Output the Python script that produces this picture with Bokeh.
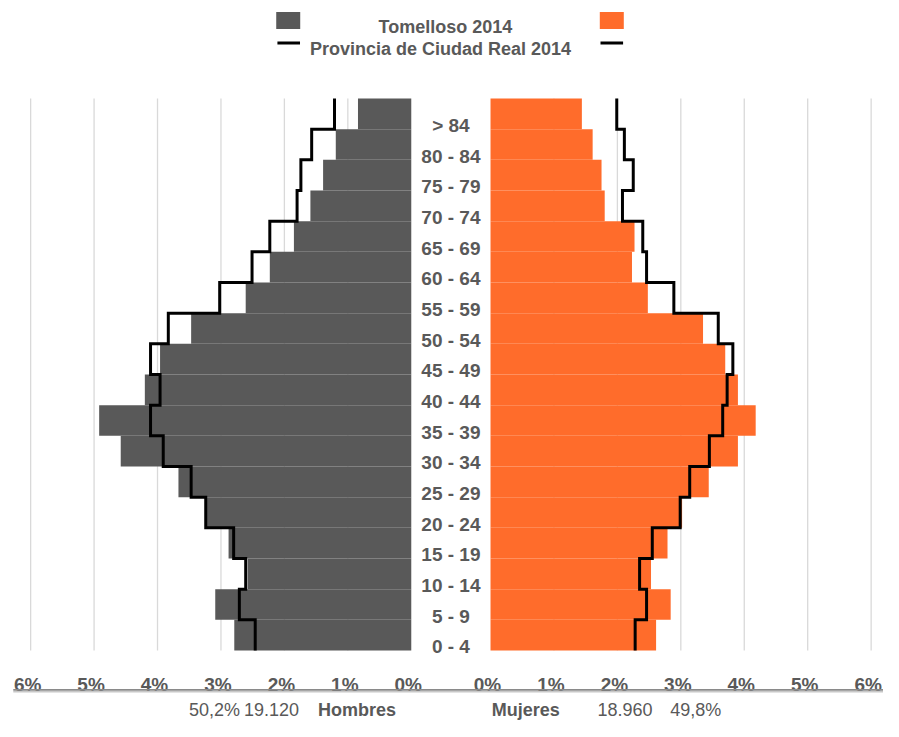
from bokeh.plotting import figure
from bokeh.models import Range1d
from bokeh.core.properties import value
from bokeh.embed import file_html
from bokeh.resources import INLINE

# ---------------- data (bottom -> top) ----------------
ages = ["0 - 4", "5 - 9", "10 - 14", "15 - 19", "20 - 24", "25 - 29", "30 - 34",
        "35 - 39", "40 - 44", "45 - 49", "50 - 54", "55 - 59", "60 - 64",
        "65 - 69", "70 - 74", "75 - 79", "80 - 84", "> 84"]
hombres_tomelloso = [2.79, 3.09, 2.58, 2.88, 3.23, 3.67, 4.58, 4.92, 4.20, 3.96,
                     3.47, 2.61, 2.23, 1.85, 1.59, 1.39, 1.19, 0.84]
mujeres_tomelloso = [2.61, 2.84, 2.53, 2.79, 3.02, 3.44, 3.90, 4.18, 3.90, 3.70,
                     3.35, 2.48, 2.23, 2.27, 1.80, 1.75, 1.61, 1.44]
hombres_provincia = [2.46, 2.71, 2.61, 2.80, 3.24, 3.47, 3.91, 4.11, 3.96, 4.11,
                     3.83, 3.02, 2.51, 2.23, 1.80, 1.74, 1.57, 1.21]
mujeres_provincia = [2.28, 2.46, 2.35, 2.55, 2.99, 3.14, 3.45, 3.66, 3.73, 3.82,
                     3.59, 2.89, 2.46, 2.40, 2.08, 2.25, 2.11, 1.99]
tick_values = [0, 1, 2, 3, 4, 5, 6]
tick_labels = ["0%", "1%", "2%", "3%", "4%", "5%", "6%"]
legend_labels = ["Tomelloso 2014", "Provincia de Ciudad Real 2014"]
hombres_label = "Hombres"
mujeres_label = "Mujeres"
hombres_total = "19.120"
mujeres_total = "18.960"
hombres_share = "50,2%"
mujeres_share = "49,8%"

# ---------------- layout constants ----------------
W, H = 883, 721
SX, SY_ = 0.982, 0.975   # slight compression so the whole fits the window
PX = 64.6          # layout pixels per 1 %
CX = 458.65        # layout x of the centre of the label gap
RY = 31.456        # layout pixels per age row
Y0 = 666.7         # layout y of the bottom of the bars
G = 40.35 / PX     # half gap (in % units)

def X(px):
    return (px - CX) / PX

def Y(py):
    return (Y0 - py) / RY

GRAY = "#595959"
ORANGE = "#FF6C2B"
TXT = "#595959"
FONT = value("Liberation Sans")

p = figure(width=W, height=H, output_backend="svg", toolbar_location=None,
           x_range=Range1d(X(0), X(W / SX)),
           y_range=Range1d(Y(H / SY_), Y(0)),
           x_axis_location=None, y_axis_location=None, min_border=0,
           title=None)
p.grid.visible = False
p.outline_line_color = None
p.background_fill_color = "white"
p.border_fill_color = "white"

n = len(ages)
rows = list(range(n))

# grid lines
gx = [-(G + k) for k in tick_values[1:]] + [G + k for k in tick_values[1:]]
p.segment(x0=gx, x1=gx, y0=[0] * len(gx), y1=[n] * len(gx),
          line_color="#d9d9d9", line_width=1.3)

# bars
p.quad(left=[-(G + v) for v in hombres_tomelloso], right=[-G] * n,
       bottom=rows, top=[r + 1 for r in rows],
       fill_color=GRAY, line_color=None)
p.quad(left=[G] * n, right=[G + v for v in mujeres_tomelloso],
       bottom=rows, top=[r + 1 for r in rows],
       fill_color=ORANGE, line_color=None)

# province step outlines
def steps(vals, sign):
    xs, ys = [], []
    for i, v in enumerate(vals):
        xs += [sign * (G + v)] * 2
        ys += [i, i + 1]
    return xs, ys

lx, ly = steps(hombres_provincia, -1)
rx, ry = steps(mujeres_provincia, 1)
p.line(lx, ly, line_color="black", line_width=3, line_join="miter")
p.line(rx, ry, line_color="black", line_width=3, line_join="miter")

# age labels
p.text(x=[0] * n, y=[r + 0.12 for r in rows], text=ages,
       text_font=FONT, text_font_style="bold", text_font_size="19px",
       text_align="center", text_baseline="alphabetic", text_color=TXT)

# x tick labels (both halves)
tx = [-(G + v) for v in tick_values] + [G + v for v in tick_values]
tl = tick_labels + tick_labels
p.text(x=tx, y=[Y(701.5)] * len(tx), text=tl, x_offset=-3,
       text_font=FONT, text_font_style="bold", text_font_size="19px",
       text_align="center", text_baseline="alphabetic", text_color=TXT)

# bottom rule (double line)
p.segment(x0=[X(13)], x1=[X(899)], y0=[Y(707)], y1=[Y(707)],
          line_color="#8a8a8a", line_width=1.6)
p.segment(x0=[X(13)], x1=[X(899)], y0=[Y(709)], y1=[Y(709)],
          line_color="#c8c8c8", line_width=1.4)

# bottom totals
yb = Y(727.5)
p.text(x=[X(218), X(276), X(636), X(708)], y=[yb] * 4,
       text=[hombres_share, hombres_total, mujeres_total, mujeres_share],
       text_font=FONT, text_font_size="18px", text_align="center",
       text_baseline="alphabetic", text_color=TXT)
p.text(x=[X(363), X(535)], y=[yb] * 2, text=[hombres_label, mujeres_label],
       text_font=FONT, text_font_style="bold", text_font_size="18px",
       text_align="center", text_baseline="alphabetic", text_color=TXT)

# legend
p.rect(x=[X(293), X(622.5)], y=[Y(20.5)] * 2, width=24, height=17,
       width_units="screen", height_units="screen",
       fill_color=[GRAY, ORANGE], line_color=None)
p.segment(x0=[X(282), X(611)], x1=[X(305), X(634)], y0=[Y(43.5)] * 2,
          y1=[Y(43.5)] * 2, line_color="black", line_width=3)
p.text(x=[X(453), X(448)], y=[Y(27), Y(50)], text=legend_labels,
       text_font=FONT, text_font_style="bold", text_font_size="18px",
       text_align="center", text_baseline="alphabetic", text_color=TXT)

open("out.html", "w").write(file_html(p, INLINE))
